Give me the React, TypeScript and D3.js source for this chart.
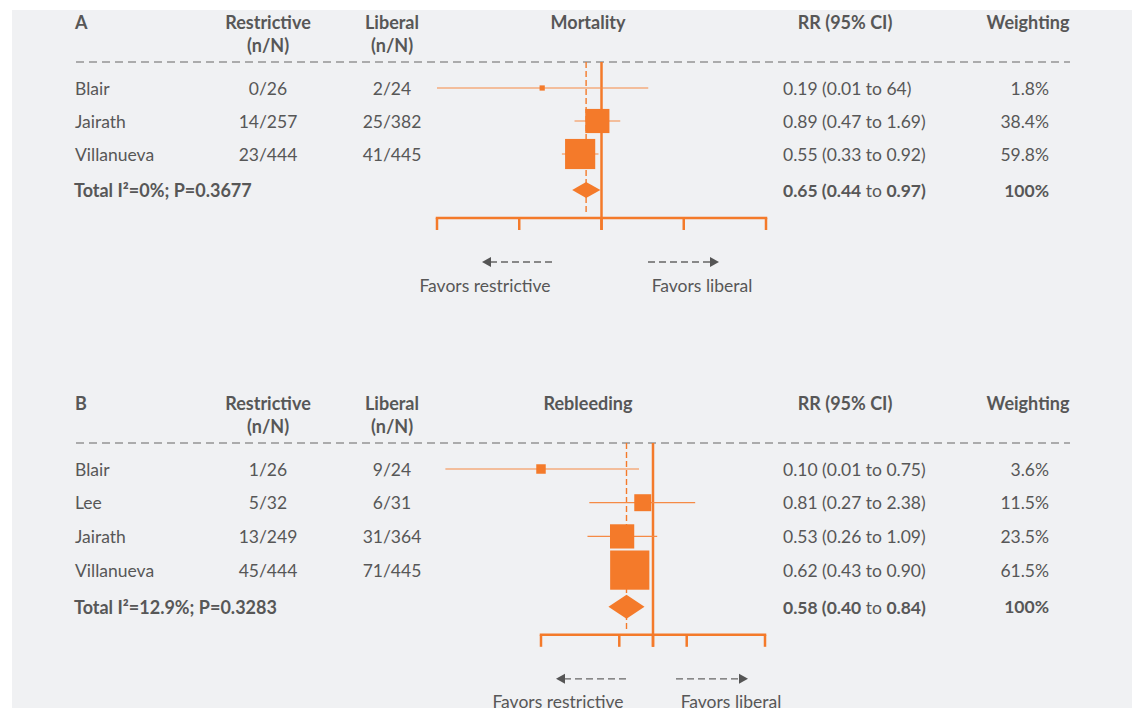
import React from "react";
import * as d3 from "d3";

// ---------- Data: Panel A (Mortality) ----------
const studiesA = ["Blair", "Jairath", "Villanueva"];
const restrictiveA = ["0/26", "14/257", "23/444"];
const liberalA = ["2/24", "25/382", "41/445"];
const rrA = [0.19, 0.89, 0.55];
const ciLowA = [0.01, 0.47, 0.33];
const ciHighA = [3.7, 1.69, 0.92];
const rrTextA = ["0.19 (0.01 to 64)", "0.89 (0.47 to 1.69)", "0.55 (0.33 to 0.92)"];
const weightA = ["1.8%", "38.4%", "59.8%"];
const weightValA = [1.8, 38.4, 59.8];
const totalA = { label: "Total I²=0%; P=0.3677", rr: 0.65, lo: 0.44, hi: 0.97, rrParts: ["0.65 (0.44", "0.97)"], weight: "100%" };
const ticksA = [0.01, 0.1, 1, 10, 100];

// ---------- Data: Panel B (Rebleeding) ----------
const studiesB = ["Blair", "Lee", "Jairath", "Villanueva"];
const restrictiveB = ["1/26", "5/32", "13/249", "45/444"];
const liberalB = ["9/24", "6/31", "31/364", "71/445"];
const rrB = [0.1, 0.81, 0.53, 0.62];
const ciLowB = [0.014, 0.27, 0.26, 0.43];
const ciHighB = [0.75, 2.38, 1.09, 0.9];
const rrTextB = ["0.10 (0.01 to 0.75)", "0.81 (0.27 to 2.38)", "0.53 (0.26 to 1.09)", "0.62 (0.43 to 0.90)"];
const weightB = ["3.6%", "11.5%", "23.5%", "61.5%"];
const weightValB = [3.6, 11.5, 23.5, 61.5];
const totalB = { label: "Total I²=12.9%; P=0.3283", rr: 0.58, lo: 0.4, hi: 0.84, rrParts: ["0.58 (0.40", "0.84)"], weight: "100%" };
const ticksB = [0.1, 0.5, 1, 2, 10];

const ORANGE = "#f47a2a";
const CI_ORANGE = "#f58a45";
const TEXT = "#575757";
const FONT = "Lato, 'Open Sans', sans-serif";

type PanelProps = {
  letter: string;
  outcome: string;
  studies: string[];
  restrictive: string[];
  liberal: string[];
  rr: number[];
  lo: number[];
  hi: number[];
  rrText: string[];
  weight: string[];
  weightVal: number[];
  total: typeof totalA;
  ticks: number[];
  range: [number, number];
  sizeK: number;
  diamondH: number;
  top: number;
  rowStep: number;
  arrowL: [number, number];
  arrowR: [number, number];
  favL: number;
  favR: number;
};

function Panel(p: PanelProps) {
  const x = d3.scaleLog().domain([p.ticks[0], p.ticks[p.ticks.length - 1]]).range(p.range);
  const size = d3.scaleSqrt().domain([0, 100]).range([0, p.sizeK * 10]);
  const hY1 = p.top;
  const hY2 = p.top + 23;
  const lineY = p.top + 40;
  const firstRow = p.top + 66;
  const rows = p.studies.map((_, i) => firstRow + i * p.rowStep);
  const totalY = firstRow + p.studies.length * p.rowStep + 3;
  const axisY = totalY + 28;
  const tickBottom = axisY + 12;
  const arrowY = axisY + 44;
  const favY = axisY + 67;
  const x1 = x(1);
  const xt = x(p.total.rr);
  const colName = 75;
  const colR = 268;
  const colL = 392;
  const colOut = 588;
  const colRR = 783;
  const colRRh = 845;
  const colW = 1049;
  const colWh = 1028;
  const fs = 17.5;
  return (
    <g fontFamily={FONT} fontSize={fs} fill={TEXT}>
      {/* header */}
      <g fontWeight={700} fontSize={18}>
        <text x={colName} y={hY1} dominantBaseline="central">{p.letter}</text>
        <text x={colR} y={hY1} textAnchor="middle" dominantBaseline="central">Restrictive</text>
        <text x={colR} y={hY2} textAnchor="middle" dominantBaseline="central">(n/N)</text>
        <text x={colL} y={hY1} textAnchor="middle" dominantBaseline="central">Liberal</text>
        <text x={colL} y={hY2} textAnchor="middle" dominantBaseline="central">(n/N)</text>
        <text x={colOut} y={hY1} textAnchor="middle" dominantBaseline="central">{p.outcome}</text>
        <text x={colRRh} y={hY1} textAnchor="middle" dominantBaseline="central">RR (95% CI)</text>
        <text x={colWh} y={hY1} textAnchor="middle" dominantBaseline="central">Weighting</text>
      </g>
      <line x1={76} x2={1070} y1={lineY} y2={lineY} stroke="#666" strokeWidth={1.2} strokeDasharray="8,5" />

      {/* reference lines */}
      <line x1={xt} x2={xt} y1={lineY} y2={axisY - 4} stroke={ORANGE} strokeWidth={1.4} strokeDasharray="6,3" />
      <line x1={x1} x2={x1} y1={lineY} y2={tickBottom} stroke={ORANGE} strokeWidth={2.5} />

      {/* rows */}
      {p.studies.map((s, i) => {
        const y = rows[i];
        const sz = size(p.weightVal[i]);
        return (
          <g key={s}>
            <text x={colName} y={y} dominantBaseline="central">{s}</text>
            <text x={colR} y={y} textAnchor="middle" dominantBaseline="central">{p.restrictive[i]}</text>
            <text x={colL} y={y} textAnchor="middle" dominantBaseline="central">{p.liberal[i]}</text>
            <text x={colRR} y={y} dominantBaseline="central">{p.rrText[i]}</text>
            <text x={colW} y={y} textAnchor="end" dominantBaseline="central">{p.weight[i]}</text>
            <line x1={x(p.lo[i])} x2={x(p.hi[i])} y1={y} y2={y} stroke={CI_ORANGE} strokeWidth={1.2} />
            <rect x={x(p.rr[i]) - sz / 2} y={y - sz / 2} width={sz} height={sz} fill={ORANGE} />
          </g>
        );
      })}

      {/* total */}
      <text x={colName - 1} y={totalY} dominantBaseline="central" fontWeight={700} fontSize={18}>{p.total.label}</text>
      <text x={colRR} y={totalY} dominantBaseline="central">
        <tspan fontWeight={700}>{p.total.rrParts[0]}</tspan>
        <tspan> to </tspan>
        <tspan fontWeight={700}>{p.total.rrParts[1]}</tspan>
      </text>
      <text x={colW} y={totalY} textAnchor="end" dominantBaseline="central" fontWeight={700}>{p.total.weight}</text>
      <path
        d={`M${x(p.total.lo)},${totalY} L${xt},${totalY - p.diamondH / 2} L${x(p.total.hi)},${totalY} L${xt},${totalY + p.diamondH / 2} Z`}
        fill={ORANGE}
      />

      {/* axis */}
      <line x1={p.range[0] - 1.25} x2={p.range[1] + 1.25} y1={axisY} y2={axisY} stroke={ORANGE} strokeWidth={2.5} />
      {p.ticks.map((t) => (
        <line key={t} x1={x(t)} x2={x(t)} y1={axisY} y2={tickBottom} stroke={ORANGE} strokeWidth={2.5} />
      ))}

      {/* direction arrows */}
      <line x1={p.arrowL[0] + 8} x2={p.arrowL[1]} y1={arrowY} y2={arrowY} stroke="#666" strokeWidth={1.3} strokeDasharray="7,4" />
      <path d={`M${p.arrowL[0]},${arrowY} L${p.arrowL[0] + 9},${arrowY - 5} L${p.arrowL[0] + 9},${arrowY + 5} Z`} fill="#555" />
      <line x1={p.arrowR[0]} x2={p.arrowR[1] - 8} y1={arrowY} y2={arrowY} stroke="#666" strokeWidth={1.3} strokeDasharray="7,4" />
      <path d={`M${p.arrowR[1]},${arrowY} L${p.arrowR[1] - 9},${arrowY - 5} L${p.arrowR[1] - 9},${arrowY + 5} Z`} fill="#555" />
      <text x={p.favL} y={favY} textAnchor="middle" dominantBaseline="central">Favors restrictive</text>
      <text x={p.favR} y={favY} textAnchor="middle" dominantBaseline="central">Favors liberal</text>
    </g>
  );
}

export default function App() {
  return (
    <svg width={1135} height={708} style={{ position: "absolute", left: 0, top: 0 }}>
      <rect x={0} y={0} width={1135} height={708} fill="#fff" />
      <rect x={12} y={10} width={1120} height={698} fill="#f0f1f3" />
      <Panel
        letter="A"
        outcome="Mortality"
        studies={studiesA}
        restrictive={restrictiveA}
        liberal={liberalA}
        rr={rrA}
        lo={ciLowA}
        hi={ciHighA}
        rrText={rrTextA}
        weight={weightA}
        weightVal={weightValA}
        total={totalA}
        ticks={ticksA}
        range={[437, 766]}
        sizeK={3.9}
        diamondH={16}
        top={22}
        rowStep={33}
        arrowL={[482, 553]}
        arrowR={[648, 719]}
        favL={485}
        favR={702}
      />
      <Panel
        letter="B"
        outcome="Rebleeding"
        studies={studiesB}
        restrictive={restrictiveB}
        liberal={liberalB}
        rr={rrB}
        lo={ciLowB}
        hi={ciHighB}
        rrText={rrTextB}
        weight={weightB}
        weightVal={weightValB}
        total={totalB}
        ticks={ticksB}
        range={[541, 765]}
        sizeK={5.0}
        diamondH={24}
        top={403}
        rowStep={33.7}
        arrowL={[556, 628]}
        arrowR={[676, 748]}
        favL={558}
        favR={731}
      />
    </svg>
  );
}
